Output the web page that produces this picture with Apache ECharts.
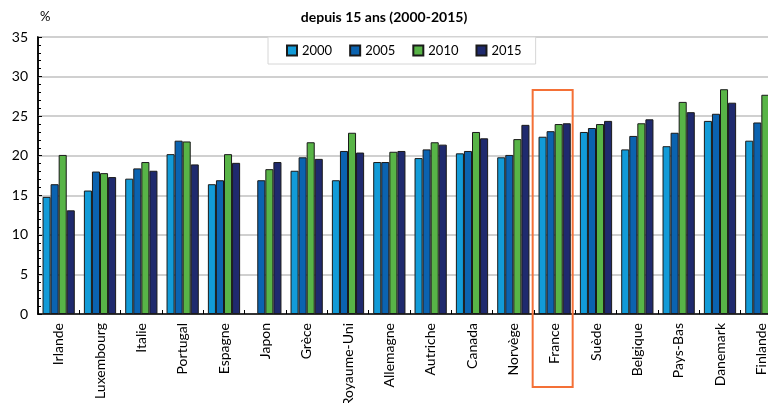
<!DOCTYPE html>
<html>
<head>
<meta charset="utf-8">
<script src="https://cdn.jsdelivr.net/npm/echarts@6/dist/echarts.min.js"></script>
<style>
  html, body { margin: 0; padding: 0; background: #fff; }
  #main { width: 768px; height: 403px; }
</style>
</head>
<body>
<div id="main"></div>
<script>
// pays (axe des x)
var categories = ["Irlande", "Luxembourg", "Italie", "Portugal", "Espagne", "Japon", "Grèce", "Royaume-Uni", "Allemagne",
  "Autriche", "Canada", "Norvège", "France", "Suède", "Belgique", "Pays-Bas", "Danemark", "Finlande"];

// valeurs en %
var y2000 = [14.8, 15.6, 17.1, 20.2, 16.4, null, 18.1, 16.9, 19.2, 19.7, 20.3, 19.8, 22.4, 23.0, 20.8, 21.2, 24.4, 21.9];
var y2005 = [16.4, 18.0, 18.4, 21.9, 16.9, 16.9, 19.8, 20.6, 19.2, 20.8, 20.6, 20.1, 23.1, 23.5, 22.5, 22.9, 25.3, 24.2];
var y2010 = [20.1, 17.8, 19.2, 21.8, 20.2, 18.3, 21.7, 22.9, 20.5, 21.7, 23.0, 22.1, 24.0, 24.0, 24.1, 26.8, 28.4, 27.7];
var y2015 = [13.1, 17.3, 18.1, 18.9, 19.1, 19.2, 19.6, 20.4, 20.6, 21.4, 22.2, 23.9, 24.1, 24.4, 24.6, 25.5, 26.7, null];

var yTicks = [0, 5, 10, 15, 20, 25, 30, 35];

var colors = ["#129BD8", "#0B63B0", "#58B447", "#1F2A6E"];
var fontFam = "Lato, 'Open Sans', sans-serif";

var myChart = echarts.init(document.getElementById("main"));

function barSeries(name, data, color) {
  return {
    name: name,
    type: "bar",
    data: data,
    barGap: "0%",
    barCategoryGap: "22%",
    itemStyle: { color: color, borderColor: "#1a1a1a", borderWidth: 1 },
  };
}

var option = {
  animation: false,
  textStyle: { fontFamily: fontFam },
  title: {
    text: "depuis 15 ans (2000-2015)",
    left: "center",
    top: 5,
    textStyle: { fontSize: 14, fontWeight: "bold", color: "#000", fontFamily: fontFam },
  },
  legend: {
    data: ["2000", "2005", "2010", "2015"],
    left: 268,
    top: 37,
    padding: [7, 14, 7, 18],
    itemGap: 17,
    itemWidth: 10,
    itemHeight: 10,
    itemTextGap: 4,
    icon: "rect",
    backgroundColor: "#fff",
    borderColor: "#d6d6d6",
    borderWidth: 1,
    textStyle: { fontSize: 13, color: "#000", fontFamily: fontFam },
  },
  grid: {
    left: 38,
    top: 37,
    width: 744,
    bottom: 89,
    outerBoundsMode: "none",
    show: true,
    borderColor: "#000",
    borderWidth: 1.5,
    backgroundColor: "transparent",
  },
  xAxis: {
    type: "category",
    data: categories,
    axisLine: { lineStyle: { color: "#000", width: 1.5 } },
    axisTick: { show: true, inside: true, length: 4, lineStyle: { color: "#000" } },
    axisLabel: { rotate: 90, fontSize: 14, color: "#000", margin: 9, interval: 0 },
  },
  yAxis: {
    type: "value",
    min: yTicks[0],
    max: yTicks[yTicks.length - 1],
    interval: 5,
    name: "%",
    nameLocation: "end",
    nameGap: 14,
    nameTextStyle: { fontSize: 13, color: "#000", align: "left", padding: [0, 0, 0, 2] },
    axisLine: { show: true, lineStyle: { color: "#000", width: 1.5 } },
    axisTick: { show: true, inside: true, length: 4, lineStyle: { color: "#000" } },
    minorTick: { show: true, splitNumber: 5, length: 3, lineStyle: { color: "#000" } },
    axisLabel: { fontSize: 14, color: "#000", margin: 10 },
    splitLine: { show: true, lineStyle: { color: "#d0d0d0", width: 2 } },
  },
  series: [
    barSeries("2000", y2000, colors[0]),
    barSeries("2005", y2005, colors[1]),
    barSeries("2010", y2010, colors[2]),
    barSeries("2015", y2015, colors[3]),
  ],
};

myChart.setOption(option);

// cadre orange autour de la France
var fx = myChart.convertToPixel({ xAxisIndex: 0 }, "France");
myChart.setOption({
  graphic: [
    {
      type: "rect",
      shape: { x: fx - 22, y: 90, width: 40, height: 297 },
      style: { fill: "none", stroke: "#F47036", lineWidth: 2 },
      z: 100,
    },
  ],
});
</script>
</body>
</html>
